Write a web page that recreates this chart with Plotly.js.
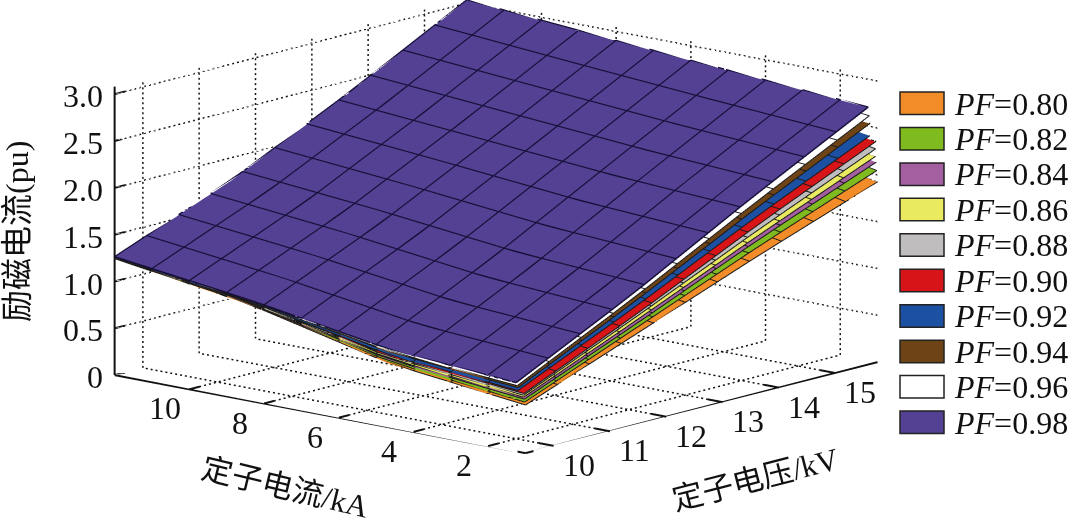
<!DOCTYPE html>
<html><head><meta charset="utf-8">
<script src="https://cdn.plot.ly/plotly-3.0.1.min.js"></script>
<style>html,body{margin:0;padding:0;background:#fff}#g{width:1070px;height:519px}</style></head>
<body><div id="g"></div>
<script>
const voltageKnots=[9.5,11.583,13.667,15.75];
const currentKnots=[1,4.67,8.33,12];
const pfLabels=['0.80','0.82','0.84','0.86','0.88','0.90','0.92','0.94','0.96','0.98'];
const pfColors=['#F28C28','#7FBA1F','#A45FA0','#EAEA60','#BFBDBE','#D71418','#1C50A3','#6E4315','#FFFFFF','#544193'];
const minCurrent=[1,1.02,1.03,1.05,1.05,1.04,1.2,1.2,1.22,1.25];
const pf80=[[.51,.68,1.02,1.24],[.99,1.17,1.45,1.70],[1.47,1.72,2.00,2.30],[1.92,2.25,2.58,2.96]];
const pf82=[[.54,.70,1.03,1.24],[1.05,1.21,1.48,1.71],[1.56,1.78,2.04,2.31],[2.04,2.33,2.63,2.97]];
const pf84=[[.57,.72,1.03,1.25],[1.09,1.25,1.50,1.72],[1.63,1.83,2.07,2.32],[2.13,2.40,2.67,2.98]];
const pf86=[[.59,.73,1.04,1.25],[1.12,1.27,1.51,1.72],[1.67,1.86,2.09,2.33],[2.19,2.44,2.70,2.99]];
const pf88=[[.61,.75,1.04,1.25],[1.16,1.30,1.53,1.73],[1.73,1.91,2.11,2.33],[2.27,2.50,2.73,2.99]];
const pf90=[[.63,.76,1.05,1.25],[1.19,1.32,1.54,1.73],[1.79,1.95,2.14,2.34],[2.35,2.55,2.76,3.00]];
const pf92=[[.65,.77,1.05,1.25],[1.22,1.34,1.56,1.74],[1.83,1.97,2.16,2.34],[2.40,2.59,2.79,3.00]];
const pf94=[[.68,.80,1.06,1.26],[1.28,1.39,1.58,1.75],[1.92,2.04,2.20,2.36],[2.53,2.68,2.84,3.02]];
const pf96=[[.70,.81,1.06,1.26],[1.32,1.42,1.60,1.75],[1.98,2.08,2.22,2.36],[2.61,2.73,2.87,3.02]];
const pf98=[[.73,.83,1.07,1.26],[1.36,1.45,1.62,1.76],[2.05,2.13,2.25,2.37],[2.70,2.80,2.91,3.03]];
const allSeries=[pf80,pf82,pf84,pf86,pf88,pf90,pf92,pf94,pf96,pf98];
const currentTicks=[2,4,6,8,10];
const voltageTicks=[10,11,12,13,14,15];
const zTicks=[0,0.5,1,1.5,2,2.5,3];
const zTickLabels=['0','0.5','1.0','1.5','2.0','2.5','3.0'];
const VR=[9.5,15.75],IR=[1,12],ZR=[0,3.08];
const gridStepV=0.5682,gridStepI=1;
const data=[];
function seg(xs,ys,zs,w,c){data.push({type:'scatter3d',mode:'lines',x:xs,y:ys,z:zs,hoverinfo:'skip',showlegend:false,
  line:{color:c||'#111',width:w},connectgaps:false});}
let gx=[],gy=[],gz=[];
function dotted(a,b,n){for(let k=0;k<n;k++){const t0=k/n,t1=(k+0.4)/n;
  gx.push(a[0]+(b[0]-a[0])*t0,a[0]+(b[0]-a[0])*t1,null);
  gy.push(a[1]+(b[1]-a[1])*t0,a[1]+(b[1]-a[1])*t1,null);
  gz.push(a[2]+(b[2]-a[2])*t0,a[2]+(b[2]-a[2])*t1,null);}}
const nV=72,nI=84,nZ=58;
currentTicks.forEach(c=>{dotted([VR[0],c,0],[VR[1],c,0],nV);dotted([VR[1],c,0],[VR[1],c,ZR[1]],nZ);});
voltageTicks.forEach(v=>{dotted([v,IR[0],0],[v,IR[1],0],nI);dotted([v,IR[1],0],[v,IR[1],ZR[1]],nZ);});
zTicks.slice(1).forEach(z=>{dotted([VR[0],IR[1],z],[VR[1],IR[1],z],nV);dotted([VR[1],IR[0],z],[VR[1],IR[1],z],nI);});
seg(gx,gy,gz,3);
let ax=[],ay=[],az=[];
function addA(a,b){ax.push(a[0],b[0],null);ay.push(a[1],b[1],null);az.push(a[2],b[2],null);}
addA([VR[0],IR[1],0],[VR[0],IR[0],0]);addA([VR[0],IR[0],0],[VR[1],IR[0],0]);addA([VR[0],IR[1],0],[VR[0],IR[1],ZR[1]]);
currentTicks.forEach(c=>addA([VR[0],c,0],[VR[0]+0.18,c,0]));
voltageTicks.forEach(v=>addA([v,IR[0],0],[v,IR[0]+0.4,0]));
zTicks.forEach(z=>addA([VR[0],IR[1],z],[VR[0]+0.18,IR[1],z]));
seg(ax,ay,az,4);
const byCurrent=m=>m[0].map((_,j)=>m.map(r=>r[j]));
function seriesZ(m,ys,v,c){
  let i=0;while(i<2&&v>voltageKnots[i+1])i++;
  let j=0;while(j<2&&c>ys[j+1])j++;
  const a=(v-voltageKnots[i])/(voltageKnots[i+1]-voltageKnots[i]),b=(c-ys[j])/(ys[j+1]-ys[j]);
  return (1-a)*(1-b)*m[i][j]+a*(1-b)*m[i+1][j]+(1-a)*b*m[i][j+1]+a*b*m[i+1][j+1];
}
const lift=0.004;
const vLines=[];for(let k=0;k<=11;k++)vLines.push(VR[0]+k*gridStepV);
const iLines=[];for(let k=0;k<=11;k++)iLines.push(IR[0]+k*gridStepI);
allSeries.forEach((m,i)=>{
  const ys=[minCurrent[i]].concat(currentKnots.slice(1));
  const top=i===allSeries.length-1;
  const hide={show:false,highlight:false};
  data.push({type:'surface',x:voltageKnots,y:ys,z:byCurrent(m),
   showscale:false,colorscale:[[0,pfColors[i]],[1,pfColors[i]]],hoverinfo:'skip',
   lighting:{ambient:1,diffuse:0,specular:0,roughness:1,fresnel:0},
   contours:{x:hide,y:hide,z:hide}});
  let ex=[],ey=[],ez=[];
  const p=(v,c)=>{ex.push(v);ey.push(c);ez.push(seriesZ(m,ys,v,c)+lift);};
  const br=()=>{ex.push(null);ey.push(null);ez.push(null);};
  const vs=vLines.map(v=>Math.min(v,VR[1]));
  const is=[ys[0]].concat(iLines.filter(c=>c>ys[0]+0.5));
  if(top){
    vs.forEach(v=>{is.forEach(c=>p(v,c));br();});
    is.forEach(c=>{vs.forEach(v=>p(v,c));br();});
    seg(ex,ey,ez,3,'#17103a');
  }else{
    vs.forEach(v=>p(v,ys[0]));br();
    is.forEach(c=>p(VR[0],c));br();
    vs.forEach(v=>{p(v,ys[0]);p(v,ys[0]+gridStepI*0.9);br();});
    is.forEach(c=>{p(VR[0],c);p(VR[0]+gridStepV*0.7,c);br();});
    seg(ex,ey,ez,2,'#1a1a1a');
  }
});
const noAxis=r=>({range:r,showgrid:false,showline:false,zeroline:false,showticklabels:false,ticks:'',showspikes:false,showbackground:false,title:{text:''}});
const sa=[];
const tf={family:'"Liberation Serif",serif',size:32,color:'#111'};
currentTicks.forEach(c=>sa.push({x:VR[0],y:c,z:0,text:String(c),showarrow:false,xshift:-24,yshift:-19,font:tf}));
voltageTicks.forEach(v=>sa.push({x:v,y:IR[0],z:0,text:String(v),showarrow:false,xshift:25,yshift:-19,font:tf}));
zTicks.forEach((z,i)=>sa.push({x:VR[0],y:11.99,z:z,text:zTickLabels[i],showarrow:false,xanchor:'center',xshift:i===0?-20:-32,yshift:-2,font:tf}));
const shapes=[],ann=[];
const cf='"Liberation Serif","Noto Sans CJK SC",serif';
pfLabels.forEach((l,i)=>{
  const y0=92+i*35.45;
  shapes.push({type:'rect',xref:'paper',yref:'paper',x0:900/1070,x1:944/1070,y0:1-y0/519,y1:1-(y0+22.5)/519,fillcolor:pfColors[i],line:{color:'#222',width:1.5}});
  ann.push({xref:'paper',yref:'paper',x:952/1070,y:1-(y0+11.5)/519,xanchor:'left',yanchor:'middle',showarrow:false,text:'<i>PF</i>='+l,font:{family:'"Liberation Serif",serif',size:32,color:'#111'}});
});
ann.push({xref:'paper',yref:'paper',x:17/1070,y:1-232/519,xanchor:'center',yanchor:'middle',text:'励磁电流(pu)',textangle:-90,showarrow:false,font:{family:cf,size:32,color:'#111'}});
ann.push({xref:'paper',yref:'paper',x:285/1070,y:1-487/519,xanchor:'center',yanchor:'middle',text:'定子电流/kA',textangle:13.6,showarrow:false,font:{family:cf,size:31,color:'#111'}});
ann.push({xref:'paper',yref:'paper',x:755/1070,y:1-479/519,xanchor:'center',yanchor:'middle',text:'定子电压/kV',textangle:-14.4,showarrow:false,font:{family:cf,size:31,color:'#111'}});
const s=1.6,ce=Math.cos(12.8*Math.PI/180),se=Math.sin(12.8*Math.PI/180),cp=Math.cos(40.6*Math.PI/180),sp=Math.sin(40.6*Math.PI/180);
const cx=0.075,cy=-0.133,cz=-0.132;
const layout={width:1070,height:519,margin:{l:0,r:0,t:0,b:0},paper_bgcolor:'#fff',showlegend:false,shapes:shapes,annotations:ann,
 scene:{domain:{x:[0,1],y:[0,1]},aspectmode:'manual',aspectratio:{x:2.085,y:2.085,z:1.14},
  xaxis:noAxis(VR),yaxis:noAxis(IR),zaxis:noAxis(ZR),annotations:sa,
  camera:{projection:{type:'orthographic'},up:{x:0,y:0,z:1},center:{x:cx,y:cy,z:cz},eye:{x:cx-s*cp*ce,y:cy-s*sp*ce,z:cz+s*se}}}};
Plotly.newPlot('g',data,layout,{displayModeBar:false});
</script></body></html>
